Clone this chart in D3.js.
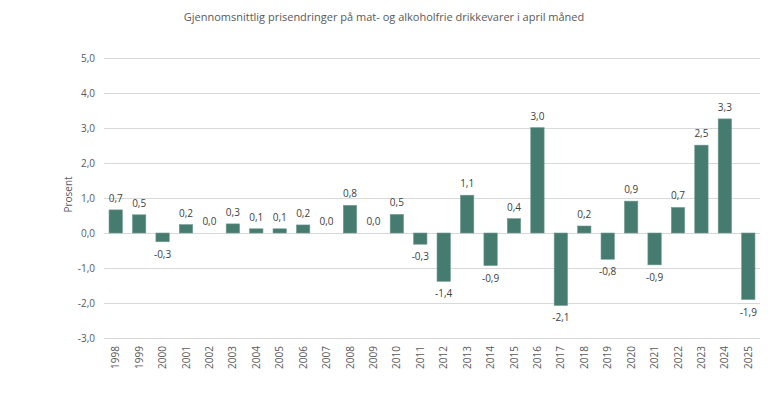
<!DOCTYPE html>
<html>
<head>
<meta charset="utf-8">
<script src="https://cdn.jsdelivr.net/npm/d3@7"></script>
<style>
  body { margin: 0; background: #fff; }
  text { font-family: "Open Sans", "Liberation Sans", sans-serif; }
</style>
</head>
<body>
<div id="svg"></div>
<script>
// chart data
var years = ["1998", "1999", "2000", "2001", "2002", "2003", "2004", "2005", "2006", "2007",
    "2008", "2009", "2010", "2011", "2012", "2013", "2014", "2015", "2016", "2017",
    "2018", "2019", "2020", "2021", "2022", "2023", "2024", "2025"];
var values = [0.66, 0.52, -0.25, 0.24, 0.0, 0.26, 0.12, 0.12, 0.23, 0.0,
    0.79, 0.0, 0.53, -0.32, -1.38, 1.08, -0.93, 0.41, 3.01, -2.07,
    0.2, -0.75, 0.91, -0.91, 0.73, 2.51, 3.26, -1.9];
var yTicks = [-3, -2, -1, 0, 1, 2, 3, 4, 5];
var title = "Gjennomsnittlig prisendringer på mat- og alkoholfrie drikkevarer i april måned";
var yLabel = "Prosent";

var W = 768, H = 398;
var margin = { top: 58, right: 8, bottom: 60, left: 104 },
    width = W - margin.left - margin.right,
    height = H - margin.top - margin.bottom;

var fmt = function(v) { return d3.format(".1f")(v).replace(".", ",").replace("−", "-"); };

var x = d3.scaleBand()
    .domain(years)
    .range([0, width])
    .paddingInner(0.43)
    .paddingOuter(0.215);

var y = d3.scaleLinear()
    .domain([-3, 5])
    .range([height, 0]);

var svg = d3.select("#svg").append("svg")
    .attr("width", W)
    .attr("height", H);

svg.append("text")
    .attr("x", 384)
    .attr("y", 21)
    .attr("text-anchor", "middle")
    .style("font-size", "11px")
    .style("fill", "#595959")
    .text(title);

var g = svg.append("g")
    .attr("transform", "translate(" + margin.left + "," + margin.top + ")");

// gridlines
g.selectAll(".grid")
    .data(yTicks)
    .enter().append("line")
    .attr("x1", 0)
    .attr("x2", width)
    .attr("y1", function(d) { return Math.round(y(d)) + 0.5; })
    .attr("y2", function(d) { return Math.round(y(d)) + 0.5; })
    .style("stroke", "#d9d9d9")
    .style("stroke-width", 1);

// y tick labels
g.selectAll(".ytick")
    .data(yTicks)
    .enter().append("text")
    .attr("x", -9)
    .attr("y", function(d) { return y(d); })
    .attr("dy", ".35em")
    .attr("text-anchor", "end")
    .style("font-size", "10px")
    .style("fill", "#595959")
    .text(function(d) { return fmt(d); });

// y axis title
svg.append("text")
    .attr("transform", "translate(72," + (margin.top + y(1.1)) + ") rotate(-90)")
    .attr("text-anchor", "middle")
    .style("font-size", "10px")
    .style("fill", "#595959")
    .text(yLabel);

// bars
g.selectAll(".bar")
    .data(values)
    .enter().append("rect")
    .attr("class", "bar")
    .attr("x", function(d, i) { return x(years[i]); })
    .attr("width", x.bandwidth())
    .attr("y", function(d) { return y(Math.max(0, d)); })
    .attr("height", function(d) { return Math.abs(y(d) - y(0)); })
    .style("fill", "#467b70")
    .style("stroke", "#6f9a90")
    .style("stroke-width", 0.6);

// value labels
g.selectAll(".lbl")
    .data(values)
    .enter().append("text")
    .attr("x", function(d, i) { return x(years[i]) + x.bandwidth() / 2; })
    .attr("y", function(d) { return d >= 0 ? y(d) - 8 : y(d) + 16; })
    .attr("text-anchor", "middle")
    .style("font-size", "10px")
    .style("fill", "#404040")
    .text(function(d) { return fmt(d); });

// x labels
g.selectAll(".xtick")
    .data(years)
    .enter().append("text")
    .attr("transform", function(d) {
        return "translate(" + (x(d) + x.bandwidth() / 2 + 3.5) + "," + (height + 8) + ") rotate(-90)";
    })
    .attr("text-anchor", "end")
    .style("font-size", "10px")
    .style("fill", "#595959")
    .text(function(d) { return d; });
</script>
</body>
</html>
